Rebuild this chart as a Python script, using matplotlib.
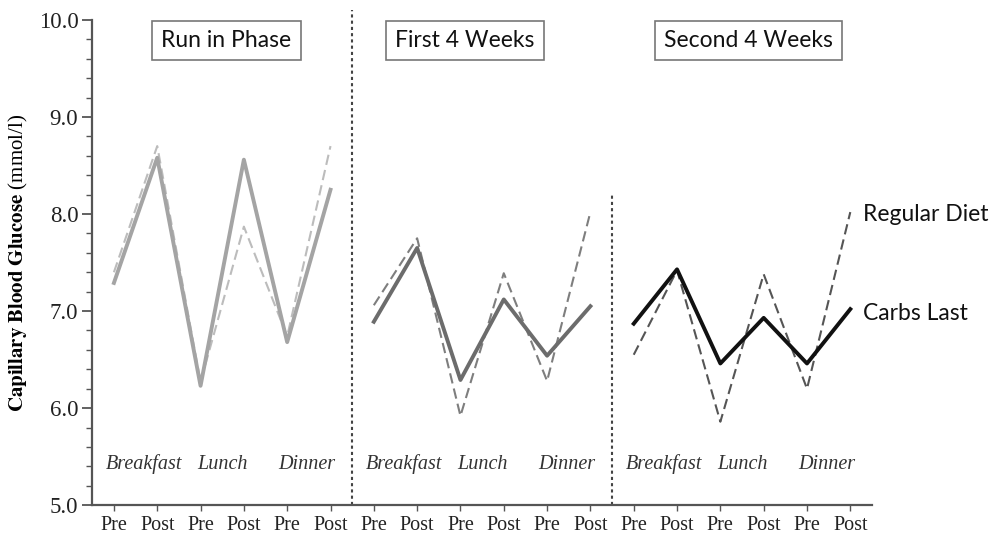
import numpy as np
import matplotlib
matplotlib.use('Agg')
import matplotlib.pyplot as plt
from matplotlib.ticker import MultipleLocator

plt.rcParams['font.family'] = 'Liberation Serif'
plt.rcParams['mathtext.fontset'] = 'stix'

# Data (mmol/l)
phases = ['Run in Phase', 'First 4 Weeks', 'Second 4 Weeks']
tick_labels = ['Pre', 'Post'] * 9
meals = ['Breakfast', 'Lunch', 'Dinner']

carbs_last_run = [7.29, 8.58, 6.23, 8.56, 6.68, 8.25]
regular_run = [7.40, 8.70, 6.27, 7.87, 6.74, 8.70]
carbs_last_wk1 = [6.89, 7.65, 6.29, 7.12, 6.54, 7.05]
regular_wk1 = [7.06, 7.75, 5.92, 7.39, 6.28, 8.02]
carbs_last_wk2 = [6.87, 7.43, 6.46, 6.93, 6.46, 7.02]
regular_wk2 = [6.55, 7.42, 5.86, 7.38, 6.20, 8.02]

solid_colors = ['#a4a4a4', '#6c6c6c', '#111111']
dash_colors = ['#bcbcbc', '#7e7e7e', '#555555']

fig = plt.figure(figsize=(9.92, 5.38), dpi=100)
ax = fig.add_axes([0.093, 0.061, 0.786, 0.902])

solid = [carbs_last_run, carbs_last_wk1, carbs_last_wk2]
dashed = [regular_run, regular_wk1, regular_wk2]
for i in range(3):
    x = np.arange(6) + 6 * i
    ax.plot(x, dashed[i], color=dash_colors[i], lw=1.5, ls=(0, (5, 2.5)), zorder=2)
    ax.plot(x, solid[i], color=solid_colors[i], lw=2.8, zorder=3)
    # meal labels
    for mx, m in zip([0.7, 2.5, 4.45], meals):
        ax.text(mx + 6 * i, 5.42, m, style='italic', fontsize=14.5,
                ha='center', va='center', color='#333333')

# phase boxes
box_x = [2.6, 8.1, 14.65]
for bx, p in zip(box_x, phases):
    ax.text(bx, 9.79, p, fontsize=16.5, family='Lato', ha='center', va='center',
            color='#111111',
            bbox=dict(boxstyle='square,pad=0.4', fc='white', ec='#777777', lw=1.2))

# dividers
ax.plot([5.5, 5.5], [5.0, 10.1], color='#444444', lw=1.5, ls=(0, (1.5, 1.5)),
        clip_on=False)
ax.plot([11.5, 11.5], [5.0, 8.2], color='#444444', lw=1.5, ls=(0, (1.5, 1.5)))

# series labels
ax.text(17.3, 8.0, 'Regular Diet', family='Lato', fontsize=16.5, va='center', color='#111111')
ax.text(17.3, 6.98, 'Carbs Last', family='Lato', fontsize=16.5, va='center', color='#111111')

ax.set_xlim(-0.5, 17.5)
ax.set_ylim(5.0, 10.0)
ax.set_xticks(np.arange(18))
ax.set_xticklabels(tick_labels, fontsize=14.5, color='#222222')
ax.set_yticks(np.arange(5, 11))
ax.set_yticklabels(['%.1f' % v for v in np.arange(5, 11)], fontsize=16.5, color='#222222')
ax.yaxis.set_minor_locator(MultipleLocator(0.2))
ax.tick_params(axis='y', which='major', length=7, width=1.3, color='#555555', pad=3)
ax.tick_params(axis='y', which='minor', length=4, width=1.0, color='#555555')
ax.tick_params(axis='x', length=4, width=1.0, color='#555555', pad=4)

for s in ['top', 'right']:
    ax.spines[s].set_visible(False)
for s in ['left', 'bottom']:
    ax.spines[s].set_color('#555555')
    ax.spines[s].set_linewidth(1.6)

ax.set_ylabel(r'$\mathbf{Capillary\ Blood\ Glucose}$ (mmol/l)', fontsize=15, labelpad=6)

fig.savefig('out.png', dpi=100)
